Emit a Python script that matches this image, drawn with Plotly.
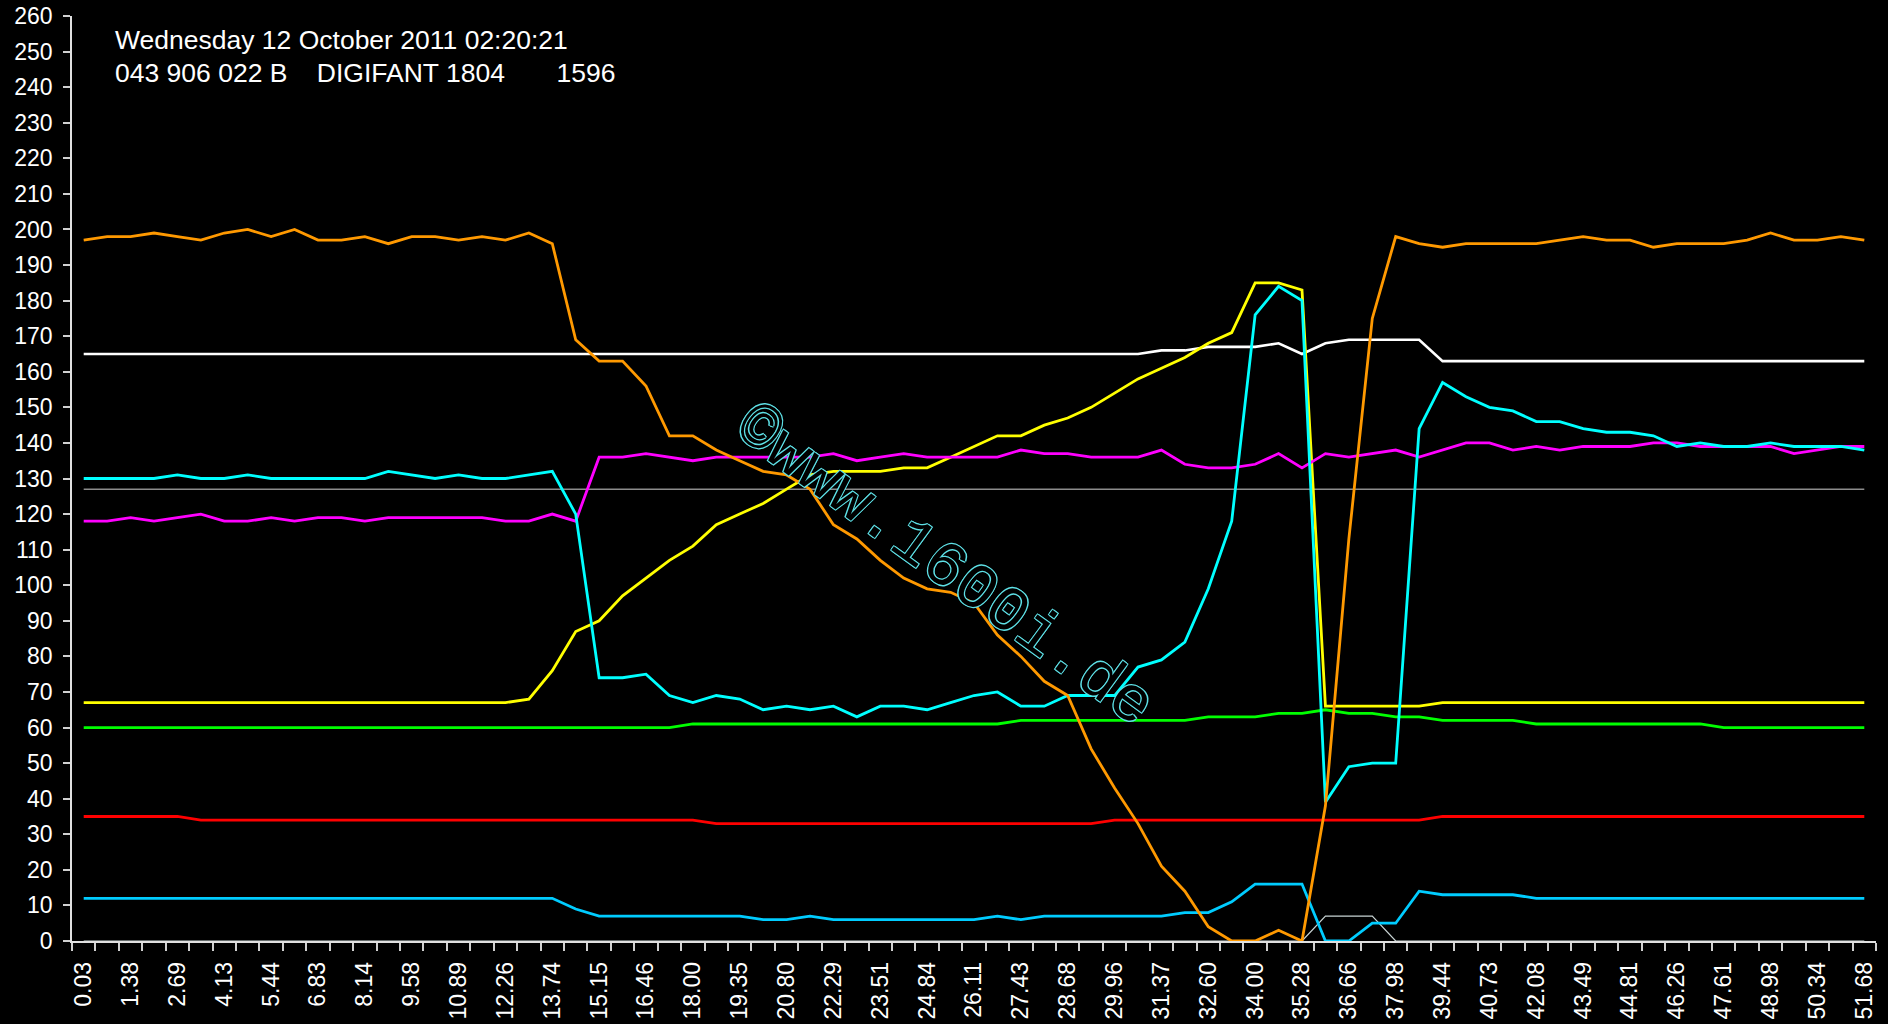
import plotly.graph_objects as go

# x-axis tick labels (every second sample is labelled)
tick_labels = ["0.03", "1.38", "2.69", "4.13", "5.44", "6.83", "8.14", "9.58", "10.89",
               "12.26", "13.74", "15.15", "16.46", "18.00", "19.35", "20.80", "22.29",
               "23.51", "24.84", "26.11", "27.43", "28.68", "29.96", "31.37", "32.60",
               "34.00", "35.28", "36.66", "37.98", "39.44", "40.73", "42.08", "43.49",
               "44.81", "46.26", "47.61", "48.98", "50.34", "51.68"]

orange = [197, 198, 198, 199, 198, 197, 199, 200, 198, 200, 197, 197, 198,
          196, 198, 198, 197, 198, 197, 199, 196, 169, 163, 163, 156, 142,
          142, 138, 135, 132, 131, 127, 117, 113, 107, 102, 99, 98, 95,
          86, 80, 73, 69, 54, 43, 33, 21, 14, 4, 0, 0, 3,
          0, 38, 113, 175, 198, 196, 195, 196, 196, 196, 196, 197, 198,
          197, 197, 195, 196, 196, 196, 197, 199, 197, 197, 198, 197]

white = [165] * 46 + [166, 166, 167, 167, 167, 168, 165, 168, 169, 169, 169, 169] + [163] * 19

cyan = [130, 130, 130, 130, 131, 130, 130, 131, 130, 130, 130, 130, 130,
        132, 131, 130, 131, 130, 130, 131, 132, 120, 74, 74, 75, 69,
        67, 69, 68, 65, 66, 65, 66, 63, 66, 66, 65, 67, 69,
        70, 66, 66, 69, 69, 69, 77, 79, 84, 99, 118, 176, 184,
        180, 39, 49, 50, 50, 144, 157, 153, 150, 149, 146, 146, 144,
        143, 143, 142, 139, 140, 139, 139, 140, 139, 139, 139, 138]

magenta = [118, 118, 119, 118, 119, 120, 118, 118, 119, 118, 119, 119, 118,
           119, 119, 119, 119, 119, 118, 118, 120, 118, 136, 136, 137, 136,
           135, 136, 136, 136, 136, 136, 137, 135, 136, 137, 136, 136, 136,
           136, 138, 137, 137, 136, 136, 136, 138, 134, 133, 133, 134, 137,
           133, 137, 136, 137, 138, 136, 138, 140, 140, 138, 139, 138, 139,
           139, 139, 140, 140, 139, 139, 139, 139, 137, 138, 139, 139]

yellow = [67] * 19 + [68, 76, 87, 90, 97, 102, 107,
          111, 117, 120, 123, 127, 131, 132, 132, 132, 133, 133, 136, 139,
          142, 142, 145, 147, 150, 154, 158, 161, 164, 168, 171, 185, 185,
          183, 66, 66, 66, 66, 66] + [67] * 19

green = [60] * 26 + [61] * 14 + [62] * 8 + [63] * 3 + [64, 64, 65, 64, 64, 63, 63] + \
        [62] * 4 + [61] * 8 + [60] * 7

red = [35] * 5 + [34] * 22 + [33] * 17 + [34] * 14 + [35] * 19

blue = [12] * 21 + [9, 7, 7, 7, 7, 7, 7, 7, 6, 6, 7, 6, 6, 6, 6, 6, 6, 6,
        7, 6, 7, 7, 7, 7, 7, 7, 8, 8, 11, 16, 16, 16, 0, 0, 5, 5, 14,
        13, 13, 13, 13] + [12] * 15

low_white = [0] * 53 + [7, 7, 7] + [0] * 21

ref_line = [127] * 77

x = list(range(len(orange)))
tickvals = list(range(0, len(orange), 2))

fig = go.Figure()

series = [
    (ref_line, "#8c8c8c", 1.5),
    (low_white, "#c8d4d4", 1.2),
    (red, "#ff0000", 2.8),
    (green, "#00ff00", 2.8),
    (blue, "#00ccff", 2.8),
    (white, "#ffffff", 2.6),
    (yellow, "#ffff00", 2.8),
    (magenta, "#ff00ff", 2.8),
    (cyan, "#00ffff", 2.8),
    (orange, "#ff9900", 2.8),
]
for ys, col, w in series:
    fig.add_trace(go.Scatter(x=x, y=ys, mode="lines",
                             line=dict(color=col, width=w), hoverinfo="skip",
                             showlegend=False))

fig.update_layout(
    width=1888, height=1024,
    paper_bgcolor="black", plot_bgcolor="black",
    margin=dict(l=72, r=12, t=16, b=83),
    font=dict(family="Liberation Sans, Arial, sans-serif", color="white"),
    xaxis=dict(
        range=[-0.5, len(orange) - 0.5], automargin=False,
        tickmode="array", tickvals=tickvals, ticktext=tick_labels,
        tickangle=-90, tickfont=dict(size=23, color="white"),
        ticks="", showgrid=False, zeroline=False, ticklabelstandoff=10,
        showline=True, linecolor="#e0e0e0", linewidth=1.5,
        minor=dict(ticks="outside", ticklen=8, tickwidth=1.5, tickcolor="#d0d0d0",
                   dtick=1, tick0=0.5, showgrid=False),
    ),
    yaxis=dict(
        range=[0, 260], dtick=10, tick0=0, automargin=False,
        tickfont=dict(size=23, color="white"), ticklabelstandoff=6,
        ticks="outside", ticklen=7, tickwidth=1.5, tickcolor="#d0d0d0",
        showgrid=False, zeroline=False,
        showline=True, linecolor="#e0e0e0", linewidth=1.5,
    ),
)

fig.add_annotation(xref="paper", yref="paper", x=0.023, y=0.974,
                   xanchor="left", yanchor="middle", showarrow=False,
                   text="Wednesday 12 October 2011 02:20:21",
                   font=dict(size=26.5, color="white"))
fig.add_annotation(xref="paper", yref="paper", x=0.023, y=0.938,
                   xanchor="left", yanchor="middle", showarrow=False,
                   text="043 906 022 B\u00a0\u00a0\u00a0\u00a0DIGIFANT 1804\u00a0\u00a0\u00a0\u00a0\u00a0\u00a0\u00a01596",
                   font=dict(size=26.5, color="white"))

oc = "#5ee0e6"
fig.add_annotation(xref="x", yref="y", x=36.7, y=105, showarrow=False,
                   text="©www.1600i.de", textangle=36,
                   font=dict(family="Liberation Mono, Courier New, monospace", size=64,
                             color="black",
                             shadow=f"1px 1px 0 {oc}, -1px -1px 0 {oc}, 1px -1px 0 {oc}, -1px 1px 0 {oc}"))

fig.write_html(
    "out.html",
    config={"displayModeBar": False},
    post_script="document.body.style.margin='0';document.body.style.background='black';"
                "document.documentElement.style.background='black';document.body.style.overflow='hidden';",
)
